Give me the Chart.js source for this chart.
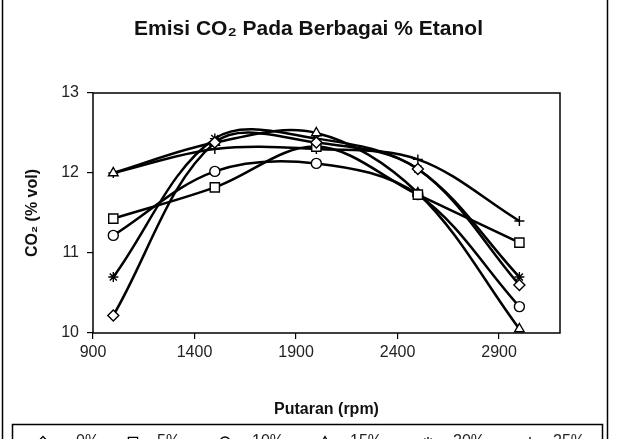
<!DOCTYPE html>
<html>
<head>
<meta charset="utf-8">
<script src="https://cdn.jsdelivr.net/npm/chart.js@4.4.1/dist/chart.umd.min.js"></script>
<style>
  html, body { margin: 0; padding: 0; background: #fff; }
  #wrap { width: 617px; height: 439px; position: relative; }
</style>
</head>
<body>
<div id="wrap"><canvas id="chart-co2"></canvas></div>
<script>
// data
const rpm = [1000, 1500, 2000, 2500, 3000];
const etanol0  = [10.22, 12.38, 12.38, 12.05, 10.60];
const etanol5  = [11.43, 11.82, 12.33, 11.73, 11.13];
const etanol10 = [11.22, 12.02, 12.12, 11.73, 10.33];
const etanol15 = [12.00, 12.38, 12.50, 11.75, 10.05];
const etanol20 = [10.70, 12.43, 12.43, 12.05, 10.70];
const etanol25 = [12.00, 12.30, 12.30, 12.17, 11.40];
const seriesNames = ['0%', '5%', '10%', '15%', '20%', '25%'];
const xTicks = [900, 1400, 1900, 2400, 2900];
const yTicks = [10, 11, 12, 13];

const allSeries = [etanol0, etanol5, etanol10, etanol15, etanol20, etanol25];
const markers = ['rectRot', 'rect', 'circle', 'triangle', 'star', 'cross'];
const markerSize = [5.5, 6.5, 5, 5.5, 5, 5];
const FONT = 'Liberation Sans, Arial, sans-serif';

// marco del area de trazado, recuadro exterior y leyenda recortada abajo
const framePlugin = {
    id: 'frame',
    afterDraw(chart) {
        const ctx = chart.ctx;
        const a = chart.chartArea;
        ctx.save();
        ctx.strokeStyle = '#000';
        ctx.lineWidth = 1.5;
        ctx.strokeRect(a.left, a.top, a.right - a.left, a.bottom - a.top);

        ctx.beginPath();
        ctx.moveTo(2.5, 0); ctx.lineTo(2.5, 439);
        ctx.moveTo(607.5, 0); ctx.lineTo(607.5, 439);
        ctx.stroke();

        ctx.strokeRect(12.5, 424.5, 590, 30);

        const legX = [43, 133, 225, 325, 428, 530];
        const txtX = [76, 157, 252, 350, 453, 553];
        const y = 442;
        chart.data.datasets.forEach((ds, i) => {
            ctx.strokeStyle = '#000';
            ctx.lineWidth = 2.5;
            ctx.beginPath();
            ctx.moveTo(legX[i] - 14, y); ctx.lineTo(legX[i] + 14, y);
            ctx.stroke();
            if (Chart.helpers && Chart.helpers.drawPoint) {
                ctx.fillStyle = '#fff';
                ctx.lineWidth = 1.3;
                Chart.helpers.drawPoint(ctx, { pointStyle: ds.pointStyle, radius: ds.pointRadius, borderWidth: 1.3 }, legX[i], y);
            }
            ctx.fillStyle = '#222';
            ctx.font = '16px ' + FONT;
            ctx.textBaseline = 'middle';
            ctx.fillText(ds.label, txtX[i], y);
        });
        ctx.restore();
    }
};

new Chart(document.getElementById('chart-co2'), {
    type: 'line',
    data: {
        datasets: allSeries.map((vals, i) => ({
            label: seriesNames[i],
            data: vals.map((v, k) => ({ x: rpm[k], y: v })),
            borderColor: '#000',
            borderWidth: 2.5,
            tension: 0.35,
            pointStyle: markers[i],
            pointRadius: markerSize[i],
            pointBorderWidth: 1.4,
            pointBackgroundColor: '#fff',
            pointBorderColor: '#000',
            clip: false
        }))
    },
    options: {
        responsive: true,
        maintainAspectRatio: false,
        animation: false,
        layout: { padding: 0 },
        plugins: {
            legend: { display: false },
            tooltip: { enabled: false },
            title: {
                display: true,
                text: 'Emisi CO₂ Pada Berbagai % Etanol',
                color: '#111',
                font: { family: FONT, size: 21, weight: 'bold' },
                padding: { top: 17, bottom: 50.8 }
            }
        },
        scales: {
            x: {
                type: 'linear',
                min: 900,
                max: 3200,
                afterBuildTicks: s => { s.ticks = xTicks.map(v => ({ value: v })); },
                afterFit: s => { s.height = 106; },
                border: { display: false },
                grid: { drawOnChartArea: false, drawTicks: true, tickLength: 6, color: '#000', lineWidth: 1.2 },
                ticks: { color: '#222', padding: 4, maxRotation: 0, font: { family: FONT, size: 16 }, callback: v => String(v) },
                title: {
                    display: true,
                    text: 'Putaran (rpm)',
                    color: '#111',
                    font: { family: FONT, size: 16, weight: 'bold' },
                    padding: { top: 0, bottom: 19.4 }
                }
            },
            y: {
                min: 10,
                max: 13,
                afterBuildTicks: s => { s.ticks = yTicks.map(v => ({ value: v })); },
                afterFit: s => { s.width = 93; },
                border: { display: false },
                grid: { drawOnChartArea: false, drawTicks: true, tickLength: 6, color: '#000', lineWidth: 1.2 },
                ticks: { color: '#222', padding: 8, font: { family: FONT, size: 16 }, callback: v => String(v) },
                title: {
                    display: true,
                    text: 'CO₂ (% vol)',
                    color: '#111',
                    font: { family: FONT, size: 16, weight: 'bold' },
                    padding: { top: 23, bottom: 0 }
                }
            },
            // eje vacio a la derecha solo para reservar el margen
            yRight: {
                position: 'right',
                min: 10,
                max: 13,
                afterFit: s => { s.width = 57; },
                border: { display: false },
                grid: { display: false },
                ticks: { display: false }
            }
        }
    },
    plugins: [framePlugin]
});
</script>
</body>
</html>
